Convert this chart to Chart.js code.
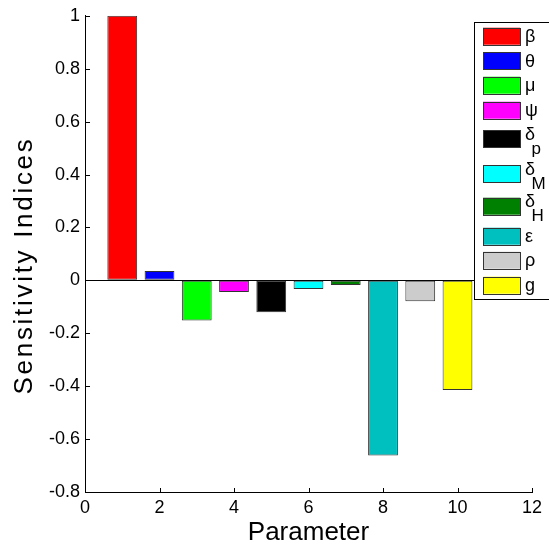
<!DOCTYPE html>
<html><head><meta charset="utf-8">
<script src="https://cdn.jsdelivr.net/npm/chart.js@4"></script>
<style>html,body{margin:0;padding:0;background:#fff;overflow:hidden}canvas{display:block}</style>
</head><body>
<canvas id="c" width="549" height="546"></canvas>
<script>
const categories = [1, 2, 3, 4, 5, 6, 7, 8, 9, 10];
const sensitivity = [1.0, 0.035, -0.152, -0.044, -0.121, -0.033, -0.018, -0.662, -0.079, -0.414];
const barColors = ['#FF0000','#0000FF','#00FF00','#FF00FF','#000000','#00FFFF','#008000','#00BFBF','#CCCCCC','#FFFF00'];
const legendSymbols = ['β','θ','μ','ψ','δ','δ','δ','ε','ρ','g'];
const legendSubscripts = ['','','','','p','M','H','','',''];
const xTicks = [0, 2, 4, 6, 8, 10, 12];
const yTicks = [-0.8, -0.6, -0.4, -0.2, 0, 0.2, 0.4, 0.6, 0.8, 1];
const xTitle = 'Parameter';
const yTitle = 'Sensitivity Indices';

const FONT = '"Liberation Sans", Arial, sans-serif';

const innerTicks = {
  id: 'innerTicks',
  afterDatasetsDraw(chart) {
    const {ctx, chartArea, scales: {x, y}} = chart;
    ctx.save();
    ctx.strokeStyle = '#000';
    ctx.lineWidth = 1;
    ctx.beginPath();
    yTicks.forEach(v => {
      const py = Math.round(y.getPixelForValue(v)) + 0.5;
      ctx.moveTo(chartArea.left, py);
      ctx.lineTo(chartArea.left + 5, py);
    });
    xTicks.forEach(v => {
      const px = Math.round(x.getPixelForValue(v)) + 0.5;
      ctx.moveTo(px, chartArea.bottom);
      ctx.lineTo(px, chartArea.bottom - 4);
    });
    ctx.stroke();
    ctx.restore();
  }
};

const customLegend = {
  id: 'customLegend',
  afterDraw(chart) {
    const ctx = chart.ctx;
    const rowTops = [27.7, 52.3, 76.7, 101.7, 130, 165, 197.7, 227.7, 251.7, 276.7];
    ctx.save();
    ctx.fillStyle = '#fff';
    ctx.fillRect(474.5, 22.5, 90, 277);
    ctx.strokeStyle = '#000';
    ctx.lineWidth = 1;
    ctx.strokeRect(474.5, 22.5, 90, 277);
    legendSymbols.forEach((sym, i) => {
      const top = rowTops[i];
      const cy = top + 8.5;
      ctx.fillStyle = barColors[i];
      ctx.fillRect(483, top, 37, 17);
      ctx.strokeStyle = '#333';
      ctx.strokeRect(483.5, Math.round(top) + 0.5, 37, 17);
      ctx.fillStyle = '#000';
      ctx.textAlign = 'left';
      ctx.textBaseline = 'alphabetic';
      ctx.font = '18px ' + FONT;
      if (legendSubscripts[i]) {
        const base = cy + 1;
        ctx.fillText(sym, 525, base);
        ctx.font = '17px ' + FONT;
        ctx.fillText(legendSubscripts[i], 531.5, base + 14);
      } else {
        ctx.fillText(sym, 525, cy + 6);
      }
    });
    ctx.restore();
  }
};

const yTitlePlugin = {
  id: 'yTitlePlugin',
  afterDraw(chart) {
    const ctx = chart.ctx;
    ctx.save();
    ctx.translate(25.2, 265.5);
    ctx.rotate(-Math.PI / 2);
    ctx.font = '26px ' + FONT;
    try { ctx.letterSpacing = '2.7px'; } catch (e) {}
    ctx.fillStyle = '#000';
    ctx.textAlign = 'center';
    ctx.textBaseline = 'middle';
    ctx.fillText(yTitle, 0, 0);
    ctx.restore();
  }
};

new Chart(document.getElementById('c'), {
  type: 'bar',
  data: {
    datasets: [{
      data: categories.map((c, i) => ({x: c, y: sensitivity[i]})),
      backgroundColor: barColors,
      borderColor: '#333',
      borderWidth: 1,
      borderSkipped: false,
      barPercentage: 0.8,
      categoryPercentage: 1.0
    }]
  },
  options: {
    responsive: false,
    animation: false,
    devicePixelRatio: 1,
    layout: {padding: {top: 15, right: 17, left: 0, bottom: 0}},
    plugins: {legend: {display: false}, tooltip: {enabled: false}},
    scales: {
      x: {
        type: 'linear',
        min: 0, max: 12,
        offset: false,
        afterBuildTicks: s => { s.ticks = xTicks.map(v => ({value: v})); },
        afterFit: s => { s.height = 54; },
        grid: {display: true, offset: false, drawOnChartArea: false, drawTicks: false, color: 'rgba(0,0,0,0)'},
        border: {display: true, color: '#000', width: 1},
        ticks: {color: '#000', padding: 5, font: {family: FONT, size: 18}, maxRotation: 0, autoSkip: false},
        title: {display: true, text: xTitle, color: '#000', padding: 0, font: {family: FONT, size: 26, lineHeight: 1}}
      },
      y: {
        type: 'linear',
        min: -0.8, max: 1,
        afterBuildTicks: s => { s.ticks = yTicks.map(v => ({value: v})); },
        afterFit: s => { s.width = 85; },
        grid: {drawTicks: false, color: ctx => (ctx.tick && Math.abs(ctx.tick.value) < 1e-9) ? '#000' : 'rgba(0,0,0,0)'},
        border: {display: true, color: '#000', width: 1},
        ticks: {color: '#000', padding: 5, font: {family: FONT, size: 18}, autoSkip: false,
          callback: v => String(Number(v.toFixed(1)))},
        title: {display: false}
      }
    }
  },
  plugins: [innerTicks, customLegend, yTitlePlugin]
});
</script>
</body></html>
